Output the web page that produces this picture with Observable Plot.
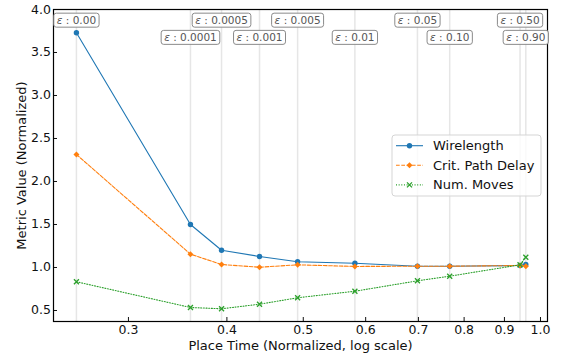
<!DOCTYPE html>
<html><head><meta charset="utf-8">
<script src="https://cdn.jsdelivr.net/npm/d3@7"></script>
<script src="https://cdn.jsdelivr.net/npm/@observablehq/plot@0.6"></script>
<style>
body{margin:0;background:#fff;font-family:"DejaVu Sans",sans-serif;}
#wrap{position:relative;width:561px;height:356px;}
</style></head><body><div id="wrap"></div>
<script>
const epsilons = ["0.00","0.0001","0.0005","0.001","0.005","0.01","0.05","0.10","0.50","0.90"];
const placeTime = [0.2577,0.3596,0.3938,0.440,0.4918,0.5814,0.698,0.767,0.942,0.958];
const wirelength = [3.73,1.50,1.20,1.128,1.066,1.05,1.015,1.015,1.023,1.035];
const critPathDelay = [2.314,1.155,1.035,1.003,1.031,1.012,1.015,1.015,1.023,1.015];
const numMoves = [0.834,0.535,0.52,0.573,0.648,0.724,0.845,0.899,1.031,1.12];
const seriesNames = ["Wirelength","Crit. Path Delay","Num. Moves"];
const colors = ["#1f77b4","#ff7f0e","#2ca02c"];
const xTicks = [0.3,0.4,0.5,0.6,0.7,0.8,0.9,1.0];
const yTicks = [0.5,1.0,1.5,2.0,2.5,3.0,3.5,4.0];

const data = placeTime.map((x, i) => ({x, eps: epsilons[i], row: i % 2, wl: wirelength[i], cpd: critPathDelay[i], nm: numMoves[i]}));
const dashes = [null, "3.7,1.6", "1,1.65"];

const svg = Plot.plot({
  width: 561, height: 356,
  marginLeft: 53, marginRight: 14, marginTop: 9, marginBottom: 35,
  style: {fontFamily: "DejaVu Sans", fontSize: "12.5px", color: "#111", background: "white"},
  x: {type: "log", domain: [0.241, 1.0207]},
  y: {domain: [0.372, 4.0]},
  marks: [
    Plot.ruleX(data, {x: "x", stroke: "#e6e6e6", strokeWidth: 1.5}),
    Plot.line(data, {x: "x", y: "wl", stroke: colors[0], strokeWidth: 1.1}),
    Plot.dot(data, {x: "x", y: "wl", symbol: "circle", fill: colors[0], r: 2.7}),
    Plot.line(data, {x: "x", y: "cpd", stroke: colors[1], strokeWidth: 1.1, strokeDasharray: dashes[1]}),
    Plot.dot(data, {x: "x", y: "cpd", symbol: "diamond2", fill: colors[1], r: 2.7}),
    Plot.line(data, {x: "x", y: "nm", stroke: colors[2], strokeWidth: 1.1, strokeDasharray: dashes[2]}),
    Plot.dot(data, {x: "x", y: "nm", symbol: "times", stroke: colors[2], r: 2.4, strokeWidth: 1.3}),
    Plot.axisX({ticks: xTicks, tickFormat: ".1f", tickSize: -4, tickPadding: 7.5,
      label: "Place Time (Normalized, log scale)", labelAnchor: "center", labelArrow: "none", labelOffset: 28}),
    Plot.axisY({ticks: yTicks, tickFormat: ".1f", tickSize: -4, tickPadding: 6.5,
      label: "Metric Value (Normalized)", labelAnchor: "center", labelArrow: "none", labelOffset: 37}),
    Plot.frame({stroke: "#000", strokeWidth: 1.2}),
    Plot.text(data.filter(d => d.row === 0), {x: "x", text: d => "ε : " + d.eps, frameAnchor: "top", dy: 11.3,
      lineAnchor: "middle", fill: "#555", fontSize: 10.5, ariaDescription: "eps-labels"}),
    Plot.text(data.filter(d => d.row === 1), {x: "x", text: d => "ε : " + d.eps, frameAnchor: "top", dy: 28.5,
      lineAnchor: "middle", fill: "#555", fontSize: 10.5, ariaDescription: "eps-labels"})
  ]
});
document.getElementById("wrap").appendChild(svg);

svg.querySelectorAll('[aria-label="x-axis label"], [aria-label="y-axis label"]').forEach(g => g.setAttribute("font-size", "13"));

// epsilon label boxes with italic epsilon
svg.querySelectorAll('g[aria-description="eps-labels"]').forEach(g => {
  Array.from(g.querySelectorAll("text")).forEach(t => {
    const s = t.textContent;
    t.textContent = "";
    const t1 = document.createElementNS("http://www.w3.org/2000/svg", "tspan");
    t1.setAttribute("font-style", "italic");
    t1.textContent = s.slice(0, 1);
    const t2 = document.createElementNS("http://www.w3.org/2000/svg", "tspan");
    t2.textContent = s.slice(1);
    t.appendChild(t1); t.appendChild(t2);
    const b = t.getBBox();
    const r = document.createElementNS("http://www.w3.org/2000/svg", "rect");
    const cy = b.y + b.height / 2;
    r.setAttribute("x", b.x - 3);
    r.setAttribute("y", cy - 7);
    r.setAttribute("width", b.width + 6);
    r.setAttribute("height", 14);
    r.setAttribute("rx", 2.5);
    r.setAttribute("fill", "white");
    r.setAttribute("fill-opacity", 0.9);
    r.setAttribute("stroke", "#8a8a8a");
    r.setAttribute("stroke-width", 1);
    if (t.getAttribute("transform")) r.setAttribute("transform", t.getAttribute("transform"));
    g.insertBefore(r, t);
  });
});

// legend
const lg = d3.select(svg).append("g").attr("font-family", "DejaVu Sans").attr("font-size", 13).attr("text-anchor", "start");
lg.append("rect").attr("x", 392).attr("y", 135).attr("width", 149).attr("height", 61).attr("rx", 3)
  .attr("fill", "white").attr("fill-opacity", 0.8).attr("stroke", "#d5d5d5");
const syms = [d3.symbolCircle, d3.symbolDiamond2, d3.symbolTimes];
seriesNames.forEach((name, i) => {
  const y = 145.7 + i * 19.6;
  lg.append("line").attr("x1", 396).attr("x2", 423).attr("y1", y).attr("y2", y)
    .attr("stroke", colors[i]).attr("stroke-width", 1.1).attr("stroke-dasharray", dashes[i]);
  const p = lg.append("path").attr("transform", `translate(409.5,${y})`)
    .attr("d", d3.symbol(syms[i], Math.PI * (i === 2 ? 2.4 * 2.4 : 2.7 * 2.7))());
  if (i === 2) p.attr("fill", "none").attr("stroke", colors[i]).attr("stroke-width", 1.3);
  else p.attr("fill", colors[i]);
  lg.append("text").attr("x", 433).attr("y", y).attr("dy", "0.35em").attr("fill", "#111")
    .attr("text-anchor", "start").text(name);
});
</script></body></html>
